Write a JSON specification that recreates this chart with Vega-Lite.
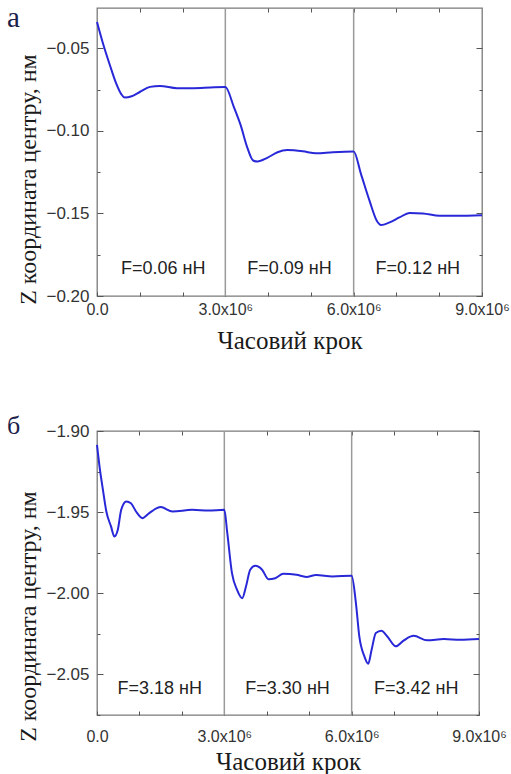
{
  "$schema": "https://vega.github.io/schema/vega-lite/v6.json",
  "background": "white",
  "padding": {"left": 6, "top": 3, "right": 0, "bottom": 0},
  "columns": 1,
  "align": "none",
  "spacing": 58,
  "datasets": {
    "top": [
      {"step": 0, "z": -0.034}, {"step": 140000, "z": -0.047}, {"step": 300000, "z": -0.060},
      {"step": 450000, "z": -0.0713}, {"step": 570000, "z": -0.0778}, {"step": 650000, "z": -0.0798},
      {"step": 810000, "z": -0.079}, {"step": 1000000, "z": -0.0764}, {"step": 1240000, "z": -0.0733},
      {"step": 1470000, "z": -0.0727}, {"step": 1870000, "z": -0.0741}, {"step": 2260000, "z": -0.0741},
      {"step": 2650000, "z": -0.0737}, {"step": 3000000, "z": -0.0734}, {"step": 3200000, "z": -0.0855},
      {"step": 3360000, "z": -0.0966}, {"step": 3510000, "z": -0.1098}, {"step": 3650000, "z": -0.1179},
      {"step": 3750000, "z": -0.1185}, {"step": 3980000, "z": -0.1163}, {"step": 4220000, "z": -0.1129},
      {"step": 4450000, "z": -0.1116}, {"step": 4810000, "z": -0.1123}, {"step": 5120000, "z": -0.1135},
      {"step": 5510000, "z": -0.1129}, {"step": 6000000, "z": -0.1125}, {"step": 6170000, "z": -0.126},
      {"step": 6370000, "z": -0.1422}, {"step": 6540000, "z": -0.1544}, {"step": 6640000, "z": -0.157},
      {"step": 6840000, "z": -0.1554}, {"step": 7070000, "z": -0.1524}, {"step": 7310000, "z": -0.1497},
      {"step": 7620000, "z": -0.150}, {"step": 8010000, "z": -0.1514}, {"step": 8410000, "z": -0.1514},
      {"step": 9000000, "z": -0.151}
    ],
    "bottom": [
      {"step": 0, "z": -1.9085}, {"step": 60000, "z": -1.9219}, {"step": 140000, "z": -1.9363},
      {"step": 220000, "z": -1.9496}, {"step": 330000, "z": -1.9588}, {"step": 410000, "z": -1.965},
      {"step": 490000, "z": -1.9609}, {"step": 570000, "z": -1.9486}, {"step": 690000, "z": -1.9434},
      {"step": 800000, "z": -1.9445}, {"step": 920000, "z": -1.9496}, {"step": 1070000, "z": -1.9537},
      {"step": 1230000, "z": -1.9506}, {"step": 1500000, "z": -1.9469}, {"step": 1780000, "z": -1.9496},
      {"step": 2240000, "z": -1.9486}, {"step": 2630000, "z": -1.949}, {"step": 3000000, "z": -1.9486},
      {"step": 3070000, "z": -1.963}, {"step": 3180000, "z": -1.9876}, {"step": 3300000, "z": -1.9979},
      {"step": 3420000, "z": -2.003}, {"step": 3510000, "z": -1.9958}, {"step": 3610000, "z": -1.9855},
      {"step": 3730000, "z": -1.9831}, {"step": 3890000, "z": -1.9855}, {"step": 4040000, "z": -1.9913},
      {"step": 4200000, "z": -1.9907}, {"step": 4390000, "z": -1.988}, {"step": 4700000, "z": -1.9886},
      {"step": 4930000, "z": -1.9899}, {"step": 5160000, "z": -1.9888}, {"step": 5550000, "z": -1.9896},
      {"step": 6000000, "z": -1.9892}, {"step": 6100000, "z": -2.006}, {"step": 6180000, "z": -2.0266},
      {"step": 6300000, "z": -2.0389}, {"step": 6390000, "z": -2.0434}, {"step": 6470000, "z": -2.0348},
      {"step": 6570000, "z": -2.0245}, {"step": 6700000, "z": -2.0231}, {"step": 6840000, "z": -2.0266},
      {"step": 7040000, "z": -2.0327}, {"step": 7230000, "z": -2.029}, {"step": 7460000, "z": -2.0262},
      {"step": 7780000, "z": -2.029}, {"step": 8170000, "z": -2.0282}, {"step": 8560000, "z": -2.0287},
      {"step": 9000000, "z": -2.0282}
    ],
    "topLabels": [
      {"step": 1550000, "z": -0.1836, "label": "F=0.06 нН"},
      {"step": 4500000, "z": -0.1836, "label": "F=0.09 нН"},
      {"step": 7500000, "z": -0.1836, "label": "F=0.12 нН"}
    ],
    "bottomLabels": [
      {"step": 1480000, "z": -2.059, "label": "F=3.18 нН"},
      {"step": 4490000, "z": -2.059, "label": "F=3.30 нН"},
      {"step": 7520000, "z": -2.059, "label": "F=3.42 нН"}
    ],
    "bounds": [{"step": 3000000}, {"step": 6000000}]
  },
  "concat": [
    {
      "width": 385,
      "height": 288,
      "title": {"text": "а", "anchor": "start", "frame": "bounds", "font": "Liberation Serif", "fontSize": 29, "fontWeight": "normal", "color": "#1b2048", "dx": -9, "dy": 26, "offset": 0},
      "resolve": {"axis": {"x": "independent", "y": "independent"}},
      "layer": [
        {
          "data": {"name": "bounds"},
          "mark": {"type": "rule", "color": "#9a9a9a", "strokeWidth": 1.5},
          "encoding": {
            "x": {"field": "step", "type": "quantitative", "scale": {"domain": [0, 9000000], "nice": false, "zero": false},
              "axis": {"orient": "top", "values": [1000000, 2000000, 3000000, 4000000, 5000000, 6000000, 7000000, 8000000], "labels": false, "tickSize": -4, "title": null}}
          }
        },
        {
          "data": {"name": "top"},
          "mark": {"type": "line", "color": "#2828d8", "strokeWidth": 2, "interpolate": "monotone"},
          "encoding": {
            "x": {"field": "step", "type": "quantitative", "scale": {"domain": [0, 9000000], "nice": false, "zero": false},
              "axis": {"orient": "bottom", "values": [0, 1000000, 2000000, 3000000, 4000000, 5000000, 6000000, 7000000, 8000000, 9000000],
                "labelExpr": "datum.value == 0 ? '0.0' : (datum.value % 3000000 == 0 ? format(datum.value / 1000000, '.1f') + 'x10⁶' : '')",
                "labelFontSize": 16, "tickSize": -4, "labelPadding": 9, "title": "Часовий крок", "titlePadding": 11}},
            "y": {"field": "z", "type": "quantitative", "scale": {"domain": [-0.2, -0.0255], "nice": false, "zero": false},
              "axis": {"orient": "left", "values": [-0.2, -0.175, -0.15, -0.125, -0.1, -0.075, -0.05],
                "labelExpr": "abs(datum.value / 0.05 - round(datum.value / 0.05)) < 0.001 ? format(datum.value, '.2f') : ''",
                "tickSize": {"condition": {"test": "abs(datum.value / 0.05 - round(datum.value / 0.05)) < 0.001", "value": -6}, "value": -3},
                "labelPadding": 14, "title": "Z координата центру, нм", "titleFontSize": 24, "titleX": -69, "titleY": 171, "titleBaseline": "middle"}}
          }
        },
        {
          "data": {"name": "topLabels"},
          "mark": {"type": "text", "font": "Liberation Sans", "fontSize": 18, "color": "#222"},
          "encoding": {
            "x": {"field": "step", "type": "quantitative", "axis": null},
            "y": {"field": "z", "type": "quantitative",
              "axis": {"orient": "right", "values": [-0.2, -0.175, -0.15, -0.125, -0.1, -0.075, -0.05], "labels": false, "title": null,
                "tickSize": {"condition": {"test": "abs(datum.value / 0.05 - round(datum.value / 0.05)) < 0.001", "value": -6}, "value": -3}}},
            "text": {"field": "label"}
          }
        }
      ]
    },
    {
      "width": 382,
      "height": 284,
      "title": {"text": "б", "anchor": "start", "frame": "bounds", "font": "Liberation Serif", "fontSize": 26, "fontWeight": "normal", "color": "#1b2048", "dx": -9, "dy": 17, "offset": 0},
      "resolve": {"axis": {"x": "independent", "y": "independent"}},
      "layer": [
        {
          "data": {"name": "bounds"},
          "mark": {"type": "rule", "color": "#9a9a9a", "strokeWidth": 1.5},
          "encoding": {
            "x": {"field": "step", "type": "quantitative", "scale": {"domain": [0, 9000000], "nice": false, "zero": false},
              "axis": {"orient": "top", "values": [1000000, 2000000, 3000000, 4000000, 5000000, 6000000, 7000000, 8000000], "labels": false, "tickSize": -4, "title": null}}
          }
        },
        {
          "data": {"name": "bottom"},
          "mark": {"type": "line", "color": "#2828d8", "strokeWidth": 2, "interpolate": "monotone"},
          "encoding": {
            "x": {"field": "step", "type": "quantitative", "scale": {"domain": [0, 9000000], "nice": false, "zero": false},
              "axis": {"orient": "bottom", "values": [0, 1000000, 2000000, 3000000, 4000000, 5000000, 6000000, 7000000, 8000000, 9000000],
                "labelExpr": "datum.value == 0 ? '0.0' : (datum.value % 3000000 == 0 ? format(datum.value / 1000000, '.1f') + 'x10⁶' : '')",
                "labelFontSize": 16, "tickSize": -4, "labelPadding": 17, "title": "Часовий крок", "titlePadding": 5}},
            "y": {"field": "z", "type": "quantitative", "scale": {"domain": [-2.075, -1.9], "nice": false, "zero": false},
              "axis": {"orient": "left", "values": [-2.075, -2.05, -2.025, -2.0, -1.975, -1.95, -1.925, -1.9],
                "labelExpr": "abs(datum.value / 0.05 - round(datum.value / 0.05)) < 0.001 ? format(datum.value, '.2f') : ''",
                "tickSize": {"condition": {"test": "abs(datum.value / 0.05 - round(datum.value / 0.05)) < 0.001", "value": -6}, "value": -3},
                "labelPadding": 14, "title": "Z координата центру, нм", "titleFontSize": 24, "titleX": -69, "titleY": 185, "titleBaseline": "middle"}}
          }
        },
        {
          "data": {"name": "bottomLabels"},
          "mark": {"type": "text", "font": "Liberation Sans", "fontSize": 18, "color": "#222"},
          "encoding": {
            "x": {"field": "step", "type": "quantitative", "axis": null},
            "y": {"field": "z", "type": "quantitative",
              "axis": {"orient": "right", "values": [-2.075, -2.05, -2.025, -2.0, -1.975, -1.95, -1.925, -1.9], "labels": false, "title": null,
                "tickSize": {"condition": {"test": "abs(datum.value / 0.05 - round(datum.value / 0.05)) < 0.001", "value": -6}, "value": -3}}},
            "text": {"field": "label"}
          }
        }
      ]
    }
  ],
  "config": {
    "view": {"stroke": "#7a7a7a", "strokeWidth": 1.3},
    "axis": {
      "domain": false, "grid": false, "tickColor": "#555", "tickWidth": 1,
      "labelFont": "Liberation Sans", "labelFontSize": 17, "labelColor": "#333",
      "labelFlush": false, "labelOverlap": false, "labelBound": false,
      "titleFont": "Liberation Serif", "titleFontSize": 25, "titleFontWeight": "normal", "titleColor": "#1a1a1a"
    }
  }
}
